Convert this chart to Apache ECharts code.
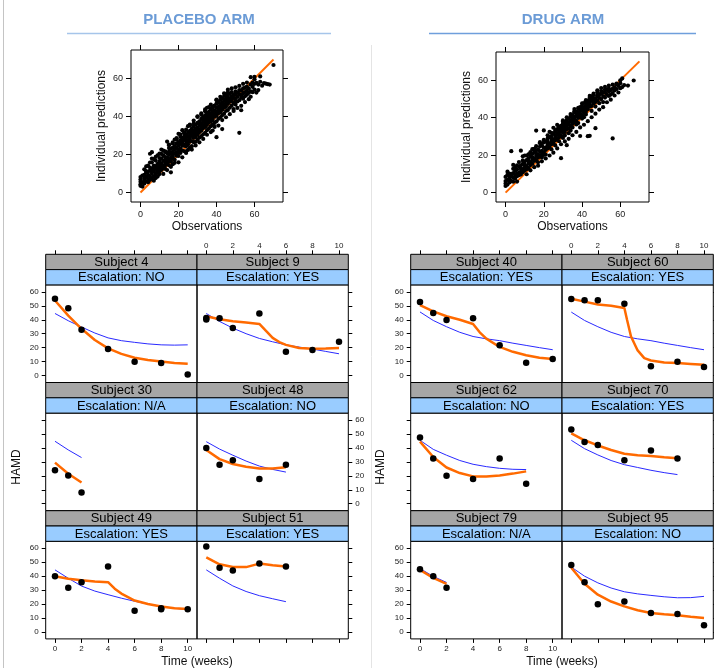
<!DOCTYPE html>
<html>
<head>
<meta charset="utf-8">
<script src="https://cdn.jsdelivr.net/npm/echarts@6.0.0/dist/echarts.min.js"></script>
<style>
  html, body { margin: 0; padding: 0; background: #fff; }
  #main { width: 714px; height: 668px; }
</style>
</head>
<body>
<div id="main"></div>
<script>
// ---- scatter: observations vs individual predictions ----
const placeboObsIpred = [
  [0,4.3],[0,6.8],[0,8.1],[0,3.5],[0,5.6],[1,5.2],[1,8.9],[1,3.1],[2,6.4],[2,9.3],[2,12.2],[2,4.7],
  [3,5.9],[3,13.7],[3,8.2],[3,10.5],[4,7.1],[4,10.9],[4,5.4],[4,14.2],[5,8.3],[5,11.7],[5,13.1],[5,20.4],[5,6.6],
  [6,9.8],[6,12.6],[6,15.9],[6,21.2],[6,7.4],[6,10.8],[7,8.5],[7,11.3],[7,14.1],[7,17.6],[7,12.8],
  [8,10.2],[8,13.9],[8,16.8],[8,7.6],[8,12.4],[8,9.1],[9,11.7],[9,15.1],[9,19.6],[9,13.2],[9,10.4],
  [10,12.9],[10,16.3],[10,9.7],[10,20.5],[10,14.6],[10,18.1],[11,13.6],[11,17.8],[11,11.9],[11,15.4],[11,20.3],
  [12,14.2],[12,19.5],[12,16.7],[12,22.1],[12,12.8],[13,15.8],[13,12.4],[13,18.6],[13,21.3],[13,17.1],
  [14,16.9],[14,20.7],[14,26.8],[14,15.1],[14,18.5],[15,17.4],[15,21.6],[15,14.3],[15,25.2],[15,19.8],[15,23.4],
  [16,18.2],[16,16.4],[16,22.9],[16,10.6],[16,20.5],[17,19.9],[17,23.6],[17,17.8],[17,14.9],[17,21.4],[17,25.8],
  [18,20.6],[18,24.4],[18,17.2],[18,27.9],[18,22.8],[19,21.3],[19,19.4],[19,25.7],[19,23.5],[19,28.6],
  [20,22.7],[20,19.2],[20,26.4],[20,24.8],[20,30.9],[20,21.1],[21,23.2],[21,20.8],[21,27.5],[21,25.6],[21,29.3],
  [22,24.6],[22,22.1],[22,28.7],[22,32.8],[22,26.3],[23,25.1],[23,21.7],[23,29.4],[23,27.8],[23,31.6],
  [24,26.9],[24,24.3],[24,30.5],[24,20.8],[24,28.2],[24,33.1],[25,27.3],[25,25.2],[25,31.8],[25,34.9],[25,29.6],
  [26,28.5],[26,26.7],[26,32.4],[26,23.6],[26,30.1],[26,35.3],[27,29.8],[27,27.1],[27,33.6],[27,24.4],[27,31.2],
  [28,30.4],[28,28.8],[28,34.7],[28,37.9],[28,32.3],[28,26.5],[29,31.6],[29,29.2],[29,26.7],[29,35.8],[29,33.4],
  [30,32.9],[30,30.5],[30,36.6],[30,27.8],[30,39.8],[30,34.3],[30,31.2],[31,33.1],[31,31.8],[31,37.4],[31,28.9],[31,35.6],
  [32,34.7],[32,32.6],[32,38.8],[32,29.7],[32,36.2],[32,40.9],[33,35.4],[33,33.9],[33,39.5],[33,30.6],[33,37.3],
  [34,36.8],[34,34.5],[34,40.6],[34,31.4],[34,38.7],[34,42.8],[35,37.5],[35,35.6],[35,41.7],[35,32.8],[35,44.6],[35,39.3],
  [36,38.6],[36,36.9],[36,42.5],[36,33.7],[36,40.4],[37,39.7],[37,37.4],[37,43.8],[37,34.9],[37,41.5],[37,46.2],
  [38,40.8],[38,38.1],[38,44.6],[38,35.7],[38,32.6],[38,42.4],[39,41.3],[39,39.9],[39,45.7],[39,36.6],[39,43.2],
  [40,42.6],[40,40.4],[40,46.8],[40,37.5],[40,29.1],[40,44.7],[40,48.9],[41,43.4],[41,41.7],[41,47.6],[41,38.8],[41,45.1],
  [42,44.9],[42,42.3],[42,48.7],[42,39.6],[42,46.5],[43,45.8],[43,43.5],[43,49.6],[43,40.7],[43,33.4],[43,47.3],
  [44,46.2],[44,44.8],[44,41.5],[44,50.8],[44,48.4],[45,47.7],[45,45.1],[45,42.9],[45,51.6],[45,49.5],
  [46,48.5],[46,46.6],[46,43.4],[46,52.7],[46,50.3],[47,49.3],[47,47.8],[47,44.6],[47,51.9],
  [48,50.6],[48,48.2],[48,45.7],[48,52.8],[49,49.8],[49,47.1],[49,43.9],[49,51.4],
  [50,51.7],[50,49.6],[50,46.3],[50,53.2],[50,48.1],[51,50.4],[51,47.9],[51,52.6],[52,31.4],[52,51.8],[52,48.6],[52,53.9],
  [53,51.1],[53,53.7],[53,45.6],[53,49.9],[54,52.3],[54,49.4],[54,54.8],[55,52.9],[55,55.2],[55,50.7],
  [56,53.6],[56,51.5],[56,55.7],[57,54.8],[57,52.4],[58,56.9],[58,60.7],[58,53.3],[59,55.6],[59,57.8],
  [60,59.6],[60,54.1],[60,60.9],[61,57.7],[61,52.6],[62,56.8],[63,58.3],[63,61.1],[64,56.2],[66,57.3],[67,57.0],[68,56.8],[70,67.1],
  [2,7.5],[3,11.2],[4,9.3],[5,15.8],[6,17.9],[7,6.2],[8,18.7],[9,8.4],[10,11.2],[11,22.6],[12,9.8],[13,21.7],[14,11.8],
  [15,24.9],[16,13.5],[17,26.4],[18,15.6],[19,27.8],[20,15.9],[21,30.6],[22,18.5],[23,31.2],[24,21.6],[25,22.4],[26,35.8],
  [27,22.6],[28,36.3],[29,24.8],[30,40.1],[31,26.4],[32,41.6],[33,28.2],[34,43.7],[35,30.4],[36,44.9],[37,31.8],[38,45.1],
  [39,34.5],[40,48.6],[41,35.2],[42,50.4],[43,38.1],[44,52.2],[45,39.6],[46,54.1],[47,41.2],[48,54.8],[49,42.9],[50,55.4],
  [51,44.5],[52,56.1],[53,43.3],[54,57.2],[55,47.6],[56,57.9],[57,49.1],[58,50.4],[59,52.8],[60,57.2],[62,53.9],[65,57.6],
  [22,26.9],[24,25.1],[26,31.2],[28,29.9],[30,33.8],[32,33.7],[34,35.9],[36,41.6],[38,39.6],[40,41.8],[42,43.9],[44,45.9],
  [46,47.5],[48,49.7],[27,32.6],[29,30.4],[31,32.9],[33,37.8],[35,36.8],[37,38.9],[39,40.8],[41,42.9],[43,44.9],[45,46.8],
  [47,48.6],[23,24.6],[25,26.8],[21,22.4],[19,20.8],[17,18.9],[15,16.2],[13,14.3],[11,12.8]
];
const drugObsIpred = [
  [0,8.4],[0,4.9],[0,3.6],[0,6.2],[1,6.8],[1,9.5],[1,4.3],[2,7.2],[2,5.4],[2,10.1],[3,22.1],[3,8.6],[3,6.1],
  [4,7.9],[4,10.4],[4,5.8],[4,12.7],[5,9.1],[5,11.6],[5,7.4],[6,8.8],[6,12.3],[6,10.2],[6,14.6],[7,10.5],[7,13.8],[7,9.3],
  [8,22.4],[8,11.2],[8,14.5],[8,12.7],[9,12.6],[9,15.3],[9,10.9],[9,17.2],[10,13.4],[10,11.8],[10,16.6],[10,14.9],
  [11,14.1],[11,17.4],[11,12.5],[11,19.8],[12,15.6],[12,13.2],[12,18.3],[12,16.9],[13,16.3],[13,14.7],[13,19.5],[13,21.6],
  [14,17.5],[14,15.4],[14,20.6],[14,18.8],[15,18.2],[15,16.9],[15,21.7],[15,23.4],[16,19.6],[16,17.3],[16,33.1],[16,22.5],[16,20.8],
  [17,20.4],[17,18.6],[17,23.1],[17,16.2],[18,21.8],[18,19.7],[18,24.6],[18,26.9],[19,22.3],[19,20.4],[19,25.3],[19,18.8],
  [20,23.9],[20,21.5],[20,26.8],[20,33.2],[20,20.1],[21,24.2],[21,22.8],[21,27.4],[21,20.3],[22,25.5],[22,23.6],[22,28.9],[22,26.4],
  [23,26.1],[23,24.3],[23,29.7],[23,32.4],[24,27.6],[24,25.8],[24,30.2],[24,23.1],[25,28.3],[25,26.4],[25,31.5],[25,34.6],
  [26,29.4],[26,27.9],[26,32.7],[26,25.2],[27,30.8],[27,28.5],[27,33.9],[27,36.1],[28,31.2],[28,29.6],[28,34.3],[28,27.4],
  [29,32.5],[29,30.3],[29,35.6],[29,18.4],[30,33.7],[30,31.9],[30,36.8],[30,29.2],[30,38.5],[31,34.1],[31,32.4],[31,37.3],[31,30.5],
  [32,35.6],[32,33.8],[32,38.7],[32,25.3],[33,36.3],[33,34.2],[33,39.4],[33,31.7],[34,37.9],[34,35.5],[34,40.8],[34,33.1],
  [35,38.4],[35,36.7],[35,41.3],[35,34.8],[36,39.1],[36,37.6],[36,42.9],[36,44.6],[37,40.7],[37,38.3],[37,43.2],[37,36.4],
  [38,41.5],[38,39.8],[38,44.7],[38,37.1],[39,42.2],[39,40.4],[39,45.6],[39,30.2],[40,43.8],[40,41.3],[40,46.2],[40,39.5],
  [41,44.3],[41,42.7],[41,47.8],[41,40.2],[42,45.6],[42,43.1],[42,48.4],[42,41.7],[43,46.2],[43,44.5],[43,49.1],[43,30.1],
  [44,47.4],[44,45.8],[44,50.6],[44,30.3],[45,48.9],[45,46.2],[45,51.3],[45,43.6],[46,49.5],[46,47.6],[46,52.1],
  [47,50.1],[47,48.4],[47,34.4],[47,45.9],[48,51.3],[48,49.2],[48,53.5],[49,50.6],[49,47.7],[49,52.4],
  [50,52.8],[50,49.9],[50,54.2],[51,51.5],[51,53.6],[51,48.3],[52,53.4],[52,50.7],[52,55.1],[53,52.2],[53,54.8],
  [54,53.9],[54,51.6],[54,55.6],[55,54.7],[55,52.3],[56,28.9],[56,55.4],[56,53.1],[57,56.2],[57,54.5],
  [58,57.8],[58,55.2],[59,56.9],[60,58.4],[60,55.7],[61,60.9],[61,56.3],[64,57.1],[67,59.8],
  [1,11.2],[2,8.6],[3,9.9],[4,14.8],[5,13.4],[6,5.9],[7,16.3],[8,9.7],[9,19.4],[10,19.8],[11,9.8],[12,20.4],[13,11.9],
  [14,23.2],[15,13.6],[16,24.8],[17,14.4],[18,26.3],[19,16.7],[20,28.1],[21,18.2],[22,30.6],[23,19.8],[24,31.9],[25,21.3],
  [26,33.4],[27,23.6],[28,35.2],[29,25.8],[30,37.9],[31,27.3],[32,40.2],[33,28.7],[34,41.9],[35,30.6],[36,43.3],[37,32.4],
  [38,45.2],[39,34.8],[40,47.6],[41,36.2],[42,49.3],[43,38.1],[44,51.6],[45,40.2],[46,52.8],[47,42.1],[48,54.6],[49,44.3],
  [50,55.8],[51,45.6],[52,56.4],[53,48.2],[54,57.1],[55,49.6],[56,57.6],[57,51.8],[58,58.2],[59,53.4],[60,59.9],[62,57.3],
  [22,27.2],[24,28.9],[26,30.6],[28,32.8],[30,34.9],[32,36.7],[34,38.6],[36,40.4],[38,42.6],[40,44.7],[42,46.5],[44,48.9],
  [46,50.4],[48,51.9],[27,31.4],[29,33.7],[31,35.8],[33,37.4],[35,39.7],[37,41.9],[39,43.7],[41,45.4],[43,47.6],[45,49.8]
];
const identityLine = [[0, 0], [70, 70]];
const scatterTicks = [0, 20, 40, 60];
const hamdTicks = [0, 10, 20, 30, 40, 50, 60];
const weekTicks = [0, 2, 4, 6, 8, 10];

// ---- individual profiles ----
const placeboSubjects = ['Subject 4', 'Subject 9', 'Subject 30', 'Subject 48', 'Subject 49', 'Subject 51'];
const placeboEscalation = ['NO', 'YES', 'N/A', 'NO', 'YES', 'YES'];
const drugSubjects = ['Subject 40', 'Subject 60', 'Subject 62', 'Subject 70', 'Subject 79', 'Subject 95'];
const drugEscalation = ['YES', 'YES', 'NO', 'YES', 'N/A', 'NO'];

// observed HAMD, [week, score]
const obs4 = [[0,55],[1,48.2],[2,32.9],[4,19],[6,9.8],[8,8.9],[10,0.7]];
const obs9 = [[0,41.2],[0,40.2],[1,41],[2,34],[4,44.4],[6,17],[8,18.3],[10,24.2]];
const obs30 = [[0,24],[1,20.3],[2,8]];
const obs48 = [[0,40],[1,28],[2,31.2],[4,17.7],[6,28]];
const obs49 = [[0,40],[1,31.7],[2,35.7],[4,46.9],[6,15.2],[8,16.9],[8,16.2],[10,16.2]];
const obs51 = [[0,61.2],[1,46],[2,44],[4,49],[6,47]];
const obs40 = [[0,52.8],[1,44.9],[2,39.8],[4,41],[6,21.8],[8,9.1],[10,11.8]];
const obs60 = [[0,54.9],[1,54],[2,54],[4,51.4],[6,6.7],[8,9.8],[10,6.2]];
const obs62 = [[0,47.5],[1,32.4],[2,20],[4,17.8],[6,32.4],[8,14.4]];
const obs70 = [[0,53.3],[1,44.2],[2,42.2],[4,31.2],[6,38.2],[8,32.4]];
const obs79 = [[0,45],[1,40],[2,31.7]];
const obs95 = [[0,48],[1,35.7],[2,19.8],[4,21.9],[6,13.6],[8,12.9],[10,4.8]];

// individual predictions (orange)
const ipred4 = [[0,53.8],[1,43],[2,33.5],[3,25.5],[4,19.5],[5,15.5],[6,12.8],[7,11.2],[8,10],[9,9],[10,8.4]];
const ipred9 = [[0,42.5],[1,40.3],[2,39],[3,38],[4,37],[4.5,32],[5,27],[5.5,24],[6,22],[7,19.8],[8,19.2],[9,19.3],[10,19.8]];
const ipred30 = [[0,29.5],[1,21.5],[2,15.2]];
const ipred48 = [[0,38.5],[1,32],[2,28.5],[3,26.5],[4,25.3],[5,25.3],[6,26.2]];
const ipred49 = [[0,40],[1,38.2],[2,37],[3,36.2],[4,35.7],[4.5,31],[5,27.5],[6,22.5],[7,20],[8,18.2],[9,17],[10,16.5]];
const ipred51 = [[0,53.5],[1,48.5],[2,46.5],[3,46.5],[4,49],[5,47.8],[6,47]];
const ipred40 = [[0,50.5],[1,46],[2,42.5],[3,40],[4,37],[4.5,31],[5,26.5],[6,20.5],[7,17],[8,14.5],[9,12.8],[10,11.8]];
const ipred60 = [[0,55],[1,53],[2,51],[3,50],[4,48.5],[4.2,40],[4.5,28],[5,18],[5.5,12.5],[6,10.8],[7,9.3],[8,8.9],[9,8.3],[10,7.7]];
const ipred62 = [[0,44.5],[1,33.5],[2,26],[3,22],[4,19.6],[5,19.5],[6,20.3],[7,21.6],[8,23.2]];
const ipred70 = [[0,50.5],[1,45.5],[2,41.8],[3,38.5],[4,35.8],[5,34.8],[6,34.2],[7,33.3],[8,32.6]];
const ipred79 = [[0,44.5],[1,38.7],[2,34.5]];
const ipred95 = [[0,46],[1,34.5],[2,26.7],[3,21.8],[4,18.3],[5,15.5],[6,13.6],[7,12.6],[8,11.9],[9,10.9],[10,10]];

// population predictions (blue)
const pred4 = [[0,44.5],[1,39.3],[2,34.8],[3,30.5],[4,27],[5,25],[6,23.8],[7,22.7],[8,22],[9,21.8],[10,22]];
const pred9 = [[0,44.5],[1,38.8],[2,34],[3,30],[4,26.6],[5,24.2],[6,22],[7,20.4],[8,19],[9,17.3],[10,15.6]];
const pred30 = [[0,44.8],[1,38.6],[2,33.1]];
const pred48 = [[0,44.5],[1,39.2],[2,34.8],[3,30.6],[4,27],[5,24.6],[6,22.7]];
const pred49 = [[0,44.5],[1,38.5],[2,32.9],[3,29.3],[4,26.7],[5,24.2],[6,22],[7,20],[8,18.3],[9,17],[10,16]];
const pred51 = [[0,44.5],[1,38.5],[2,33],[3,29],[4,26],[5,23.8],[6,21.7]];
const pred40 = [[0,45.6],[1,39.5],[2,35],[3,31],[4,28],[5,26.3],[6,25],[7,23.2],[8,21.6],[9,20],[10,18.5]];
const pred60 = [[0,45.5],[1,39.5],[2,35],[3,31],[4,28],[5,26.3],[6,25],[7,23.2],[8,21.6],[9,20],[10,18.5]];
const pred62 = [[0,45.5],[1,39],[2,34.8],[3,31],[4,28.3],[5,26.6],[6,25.4],[7,24.7],[8,24.5]];
const pred70 = [[0,45.5],[1,39.5],[2,35],[3,31],[4,28],[5,26],[6,24],[7,22.3],[8,20.9]];
const pred79 = [[0,45.5],[1,39.8],[2,35.5]];
const pred95 = [[0,46.5],[1,40],[2,35.2],[3,31.5],[4,28.8],[5,27.3],[6,26.2],[7,25.2],[8,24.5],[9,24.6],[10,25.5]];

const placeboObs = [obs4, obs9, obs30, obs48, obs49, obs51];
const placeboIpred = [ipred4, ipred9, ipred30, ipred48, ipred49, ipred51];
const placeboPred = [pred4, pred9, pred30, pred48, pred49, pred51];
const drugObs = [obs40, obs60, obs62, obs70, obs79, obs95];
const drugIpred = [ipred40, ipred60, ipred62, ipred70, ipred79, ipred95];
const drugPred = [pred40, pred60, pred62, pred70, pred79, pred95];

const FONT = '"Liberation Sans", Arial, Helvetica, sans-serif';
const ORANGE = '#ff6a00';
const BLUE = '#2a2aff';

const chart = echarts.init(document.getElementById('main'));
const grid = [], xAxis = [], yAxis = [], series = [], graphic = [];

function tick(show, vals, len) {
  return { show: show, inside: false, length: len, customValues: vals, lineStyle: { color: '#000', width: 1 } };
}
function label(show, vals, size, margin) {
  return { show: show, customValues: vals, fontSize: size, color: '#222', fontFamily: FONT, margin: margin };
}
const noLine = { show: false, onZero: false };

function addScatter(left, top, w, h, pts) {
  const gi = grid.length;
  grid.push({ left: left, top: top, width: w, height: h, show: true, borderColor: '#000', borderWidth: 1,
              backgroundColor: 'transparent', outerBoundsMode: 'none' });
  const base = { gridIndex: gi, type: 'value', min: -5, max: 75, axisLine: noLine, splitLine: { show: false } };
  const xi = xAxis.length, yi = yAxis.length;
  xAxis.push(Object.assign({}, base, { position: 'bottom', axisTick: tick(true, scatterTicks, 5), axisLabel: label(true, scatterTicks, 9, 8) }));
  xAxis.push(Object.assign({}, base, { position: 'top', axisTick: tick(true, scatterTicks, 5), axisLabel: { show: false } }));
  yAxis.push(Object.assign({}, base, { position: 'left', axisTick: tick(true, scatterTicks, 5), axisLabel: label(true, scatterTicks, 9, 8) }));
  yAxis.push(Object.assign({}, base, { position: 'right', axisTick: tick(true, scatterTicks, 5), axisLabel: { show: false } }));
  series.push({ type: 'line', xAxisIndex: xi, yAxisIndex: yi, data: identityLine, symbol: 'none',
                lineStyle: { color: ORANGE, width: 2 }, z: 1, silent: true });
  series.push({ type: 'scatter', xAxisIndex: xi, yAxisIndex: yi, data: pts, symbol: 'circle', symbolSize: 4.2,
                itemStyle: { color: '#000', opacity: 1 }, silent: true, z: 2 });
  graphic.push({ type: 'text', x: left - 29, y: top + h / 2, rotation: Math.PI / 2,
                 style: { text: 'Individual predictions', font: '12px ' + FONT, fill: '#111', align: 'center', verticalAlign: 'middle' } });
  graphic.push({ type: 'text', x: left + w / 2, y: top + h + 25,
                 style: { text: 'Observations', font: '12px ' + FONT, fill: '#111', align: 'center', verticalAlign: 'middle' } });
}

const rowTop = [254.3, 382.5, 510.7];
const stripH = 15.3, rowH = 128.2, colW = 151.3;

function addArm(panelLeft, subjects, escal, obs, ipred, pred, ylabX) {
  for (let i = 0; i < 6; i++) {
    const col = i % 2, row = Math.floor(i / 2);
    const left = panelLeft + col * colW, top = rowTop[row] + 2 * stripH;
    const h = rowH - 2 * stripH;
    const gi = grid.length;
    grid.push({ left: left, top: top, width: colW, height: h, show: true, borderColor: '#000', borderWidth: 1,
                backgroundColor: 'transparent', outerBoundsMode: 'none' });
    const xb = { gridIndex: gi, type: 'value', min: -0.7, max: 10.7, axisLine: noLine, splitLine: { show: false } };
    const yb = { gridIndex: gi, type: 'value', min: -5, max: 65, axisLine: noLine, splitLine: { show: false } };
    const xi = xAxis.length, yi = yAxis.length;
    xAxis.push(Object.assign({}, xb, { position: 'bottom', axisTick: tick(row === 2, weekTicks, 4),
                                        axisLabel: label(row === 2 && col === 0, weekTicks, 8, 6) }));
    if (row === 0) {
      xAxis.push(Object.assign({}, xb, { position: 'top', offset: 2 * stripH, axisTick: tick(true, weekTicks, 4),
                                          axisLabel: label(col === 1, weekTicks, 8, 5) }));
    }
    const labelled = col === 0 ? row !== 1 : row === 1;
    yAxis.push(Object.assign({}, yb, { position: col === 0 ? 'left' : 'right', axisTick: tick(true, hamdTicks, 4),
                                        axisLabel: label(labelled, hamdTicks, 8, 7) }));
    series.push({ type: 'line', xAxisIndex: xi, yAxisIndex: yi, data: pred[i], symbol: 'none',
                  lineStyle: { color: BLUE, width: 1 }, silent: true, z: 2 });
    series.push({ type: 'line', xAxisIndex: xi, yAxisIndex: yi, data: ipred[i], symbol: 'none',
                  lineStyle: { color: ORANGE, width: 2.5 }, silent: true, z: 3 });
    series.push({ type: 'scatter', xAxisIndex: xi, yAxisIndex: yi, data: obs[i], symbol: 'circle', symbolSize: 6.5,
                  itemStyle: { color: '#000', opacity: 1 }, silent: true, z: 4 });
    // strips
    const sy = rowTop[row];
    graphic.push({ type: 'rect', shape: { x: left, y: sy, width: colW, height: stripH },
                   style: { fill: '#a6a6a6', stroke: '#000', lineWidth: 1 } });
    graphic.push({ type: 'rect', shape: { x: left, y: sy + stripH, width: colW, height: stripH },
                   style: { fill: '#99ccff', stroke: '#000', lineWidth: 1 } });
    graphic.push({ type: 'text', x: left + colW / 2, y: sy + stripH / 2 + 0.5,
                   style: { text: subjects[i], font: '13px ' + FONT, fill: '#000', align: 'center', verticalAlign: 'middle' } });
    graphic.push({ type: 'text', x: left + colW / 2, y: sy + stripH * 1.5 + 0.5,
                   style: { text: 'Escalation: ' + escal[i], font: '13px ' + FONT, fill: '#000', align: 'center', verticalAlign: 'middle' } });
  }
  graphic.push({ type: 'text', x: ylabX, y: 467, rotation: Math.PI / 2,
                 style: { text: 'HAMD', font: '12px ' + FONT, fill: '#111', align: 'center', verticalAlign: 'middle' } });
  graphic.push({ type: 'text', x: panelLeft + colW, y: 662,
                 style: { text: 'Time (weeks)', font: '12px ' + FONT, fill: '#111', align: 'center', verticalAlign: 'middle' } });
}

addScatter(131, 50, 152, 152, placeboObsIpred);
addScatter(496, 52, 153, 150, drugObsIpred);
addArm(45.7, placeboSubjects, placeboEscalation, placeboObs, placeboIpred, placeboPred, 17);
addArm(410.7, drugSubjects, drugEscalation, drugObs, drugIpred, drugPred, 381);

// arm titles and separators
graphic.push({ type: 'line', shape: { x1: 3.5, y1: 0, x2: 3.5, y2: 668 }, style: { stroke: '#c4c4c4', lineWidth: 1 } });
graphic.push({ type: 'line', shape: { x1: 371.5, y1: 45, x2: 371.5, y2: 668 }, style: { stroke: '#e4e4e4', lineWidth: 1 } });
graphic.push({ type: 'text', x: 199, y: 20, style: { text: 'PLACEBO ARM', font: 'bold 15px ' + FONT, fill: '#6b9bd6', align: 'center', verticalAlign: 'middle' } });
graphic.push({ type: 'line', shape: { x1: 67, y1: 33.5, x2: 331, y2: 33.5 }, style: { stroke: '#a6c5ea', lineWidth: 1.5 } });
graphic.push({ type: 'text', x: 563, y: 20, style: { text: 'DRUG ARM', font: 'bold 15px ' + FONT, fill: '#6b9bd6', align: 'center', verticalAlign: 'middle' } });
graphic.push({ type: 'line', shape: { x1: 429, y1: 33.5, x2: 696, y2: 33.5 }, style: { stroke: '#6f9fdc', lineWidth: 1.5 } });

chart.setOption({
  animation: false,
  backgroundColor: '#fff',
  grid: grid,
  xAxis: xAxis,
  yAxis: yAxis,
  series: series,
  graphic: graphic
});
</script>
</body>
</html>
